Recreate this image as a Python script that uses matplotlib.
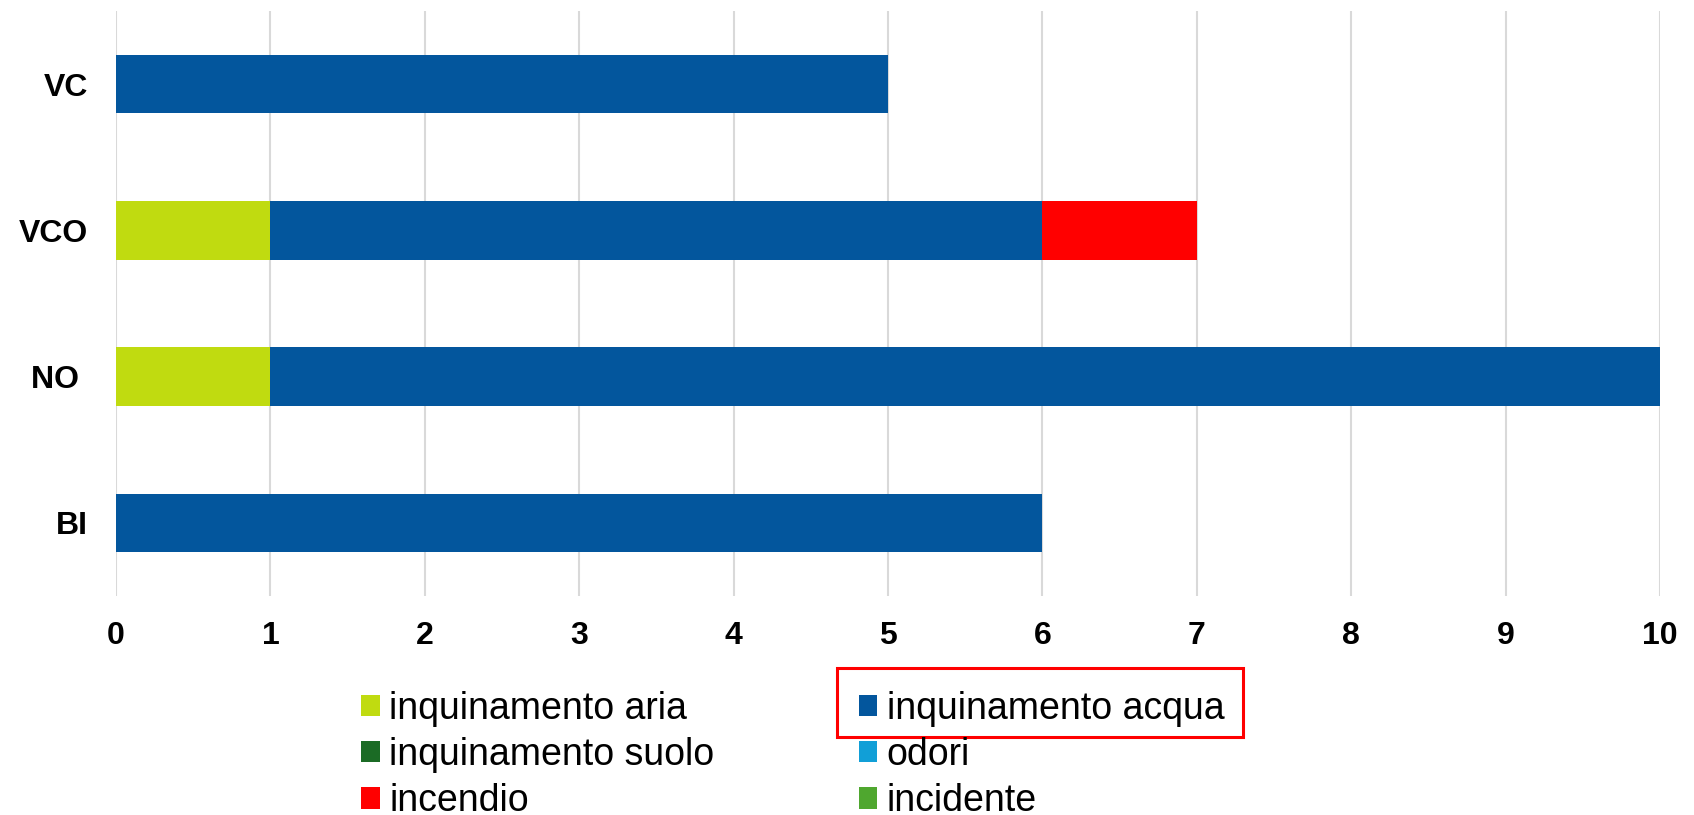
import matplotlib
matplotlib.use("Agg")
import matplotlib.pyplot as plt
from matplotlib.patches import Patch, Rectangle

plt.rcParams['font.family'] = ['Liberation Sans', 'DejaVu Sans']

# province, dal basso verso l'alto
province = ['BI', 'NO ', 'VCO', 'VC']

# segnalazioni per tipologia
inq_aria = [0, 1, 1, 0]
inq_acqua = [6, 9, 5, 5]
inq_suolo = [0, 0, 0, 0]
odori = [0, 0, 0, 0]
incendio = [0, 0, 1, 0]
incidente = [0, 0, 0, 0]

serie = [
    ('inquinamento aria', inq_aria, '#C0DB10'),
    ('inquinamento acqua', inq_acqua, '#03569D'),
    ('inquinamento suolo', inq_suolo, '#1B6B25'),
    ('odori', odori, '#119FD7'),
    ('incendio', incendio, '#FF0000'),
    ('incidente', incidente, '#4FA72F'),
]

W, H = 1694, 815
fig = plt.figure(figsize=(W / 100, H / 100), dpi=100)
ax = fig.add_axes([116 / W, 1 - 596 / H, (1660 - 116) / W, (596 - 11) / H])

y = range(len(province))
left = [0] * len(province)
handles = {}
for nome, valori, colore in serie:
    ax.barh(y, valori, left=left, height=0.4, color=colore, zorder=3)
    left = [a + b for a, b in zip(left, valori)]
    handles[nome] = Patch(facecolor=colore)

ax.set_xlim(0, 10)
ax.set_ylim(-0.5, 3.5)
ax.set_xticks(range(11))
ax.set_yticks(list(y))
ax.set_yticklabels(province)
ax.tick_params(axis='both', length=0, labelsize=23)
ax.tick_params(axis='x', pad=18)
ax.tick_params(axis='y', pad=20)
for lab in ax.get_xticklabels() + ax.get_yticklabels():
    lab.set_fontweight('bold')
ax.grid(axis='x', color='#D9D9D9', linewidth=1.5, zorder=0)
for s in ax.spines.values():
    s.set_visible(False)

# legenda in due colonne (ordine per colonna)
ordine = ['inquinamento aria', 'inquinamento suolo', 'incendio',
          'inquinamento acqua', 'odori', 'incidente']
fig.legend([handles[n] for n in ordine], ordine, ncol=2, frameon=False,
           loc='center left', bbox_to_anchor=(361 / W, 1 - 755 / H),
           fontsize=27, handlelength=0.5, handleheight=0.5,
           handletextpad=0.25, columnspacing=3.85, labelspacing=0.27,
           borderpad=0, borderaxespad=0)

# riquadro rosso attorno a "inquinamento acqua"
fig.patches.append(Rectangle((837 / W, 1 - 737 / H), (1243 - 837) / W, (737 - 668) / H,
                             transform=fig.transFigure, fill=False,
                             edgecolor='#FF0000', linewidth=2.2))

fig.savefig('out.png', dpi=100)
